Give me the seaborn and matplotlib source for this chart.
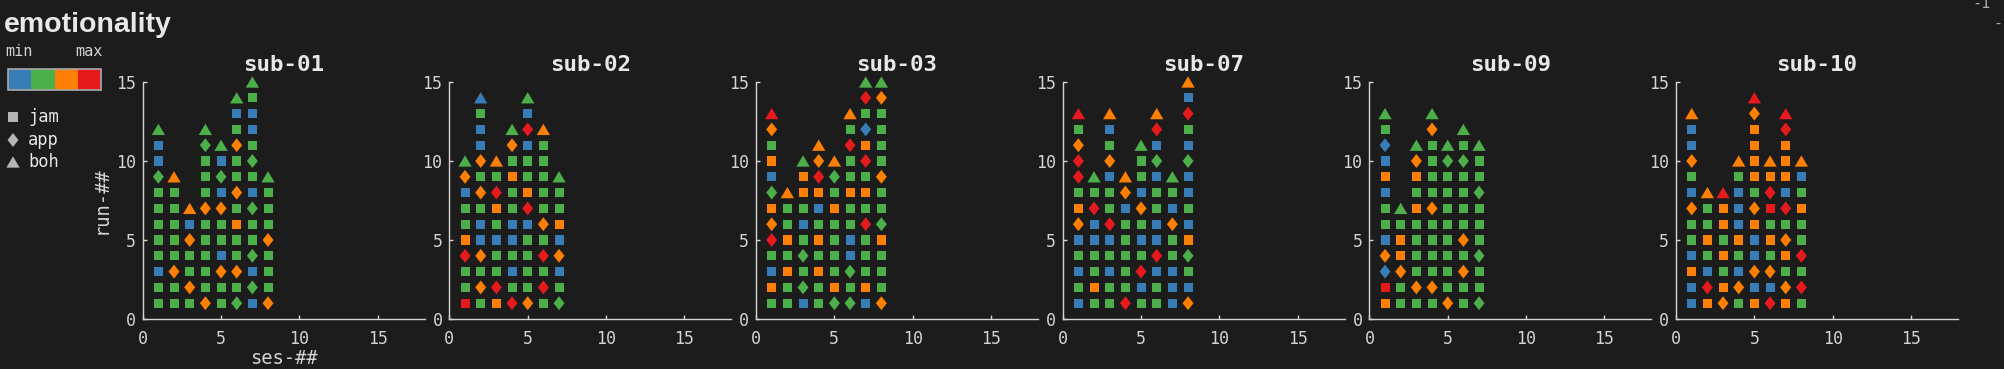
import numpy as np
import pandas as pd
import matplotlib
matplotlib.use("Agg")
import matplotlib.pyplot as plt
from matplotlib.colors import ListedColormap
from matplotlib.patches import Rectangle
import seaborn as sns

BG = "#1c1c1c"
FG = "#d4d4d4"
FG_HI = "#e8e8e8"
MONO = "DejaVu Sans Mono"

subjects = ["sub-01", "sub-02", "sub-03", "sub-07", "sub-09", "sub-10"]

# one string per session, runs from run-01 upward
# letter = emotionality level (B min, G, O, R max), symbol = s jam, d app, ^ boh
sub01 = [
    "Gs Gs Bs Gs Gs Gs Gs Gs Gd Bs Bs G^",
    "Gs Gs Od Gs Gs Gs Gs Gs O^",
    "Gs Od Gs Gs Od Bs O^",
    "Od Gs Gs Gs Gs Gs Od Gs Gs Gs Gd G^",
    "Gs Gs Od Bs Gs Gs Od Bs Gd Bs G^",
    "Gd Gs Od Gs Gs Os Gs Od Gs Gs Od Gs Bs G^",
    "Bs Gd Bs Gd Gs Gs Gd Bs Gs Gd Gs Bs Bs Gs G^",
    "Od Gs Gs Gs Od Gs Gs Gs G^",
]
sub02 = [
    "Rs Gs Gs Rd Os Gs Gs Bs Od G^",
    "Gs Od Gs Od Bs Bs Gs Od Gs Od Bs Bs Gs B^",
    "Os Rd Gs Gs Bs Gs Os Rd Gs O^",
    "Rd Gs Bs Gs Bs Bs Gs Gs Os Gs Od G^",
    "Od Gs Gs Gs Gs Bs Rd Os Gs Gs Bs Rd Bs G^",
    "Gs Rd Gs Rd Gs Od Gs Gs Gs Gs Gs O^",
    "Gd Gs Bs Od Bs Os Gs Gs G^",
]
sub03 = [
    "Gs Os Bs Gs Rd Od Os Gd Bs Os Gs Od R^",
    "Gs Gs Os Gs Os Gs Gs O^",
    "Bs Gd Gs Gd Gs Bs Gs Os Os G^",
    "Gs Gs Os Gs Os Gs Bs Os Rd Od O^",
    "Gd Os Gs Gs Gs Gs Os Gs Gd O^",
    "Gd Gs Gd Bs Bs Gs Gs Os Gs Gs Rd Gs O^",
    "Bs Os Gs Gs Gs Rd Gs Os Gs Rd Os Bd Gs Rd G^",
    "Od Gs Gs Gs Os Gd Gs Gs Od Gs Gs Gs Gs Od G^",
]
sub07 = [
    "Bs Gs Bs Gs Bs Od Os Gs Rd Rd Od Gs R^",
    "Gs Os Gs Gs Bs Bs Rd Gs G^",
    "Gs Gs Bs Gs Bs Rd Gs Gs Bs Od Gs Bs O^",
    "Rd Gs Gs Gs Gs Gs Bs Od O^",
    "Gs Bs Rd Gs Bs Gs Od Bs Gs Gs G^",
    "Gs Gs Bs Rd Bs Bs Gs Gs Bs Gd Bs Rd O^",
    "Bs Bs Bs Gs Gs Od Bs Gs G^",
    "Od Bs Gs Gd Os Bs Gs Bs Bs Gd Bs Gs Rd Bs O^",
]
sub09 = [
    "Os Rs Bd Od Bs Gs Gs Bs Os Bs Bd Gs G^",
    "Gs Gs Od Os Os Gs G^",
    "Gs Od Gs Gs Gs Gs Os Gs Os Od G^",
    "Gs Od Gs Gs Gs Gs Od Gs Gs Gs Gs Od G^",
    "Od Gs Gs Gs Gs Gs Gs Gs Gs Gd G^",
    "Gs Gs Od Gs Od Gs Gs Gs Gs Gd Gs G^",
    "Gd Gs Gs Gd Gs Gs Gs Gd Gs Gs G^",
]
sub10 = [
    "Bs Bs Os Bs Gs Gs Od Bs Gs Od Bs Bs O^",
    "Os Rd Bs Gs Os Gs Gs O^",
    "Od Os Gs Os Gs Os Os R^",
    "Gs Od Bs Gs Os Bs Bs Bs Gs O^",
    "Os Bs Od Bs Bs Os Od Gs Os Os Os Os Od R^",
    "Rd Bs Od Gs Os Gs Rs Rd Os O^",
    "Os Od Gs Os Od Gs Rd Bs Os Os Os Rd R^",
    "Gs Rd Gs Rd Gs Gs Os Gs Bs O^",
]
sessions = [sub01, sub02, sub03, sub07, sub09, sub10]

level_names = ["B", "G", "O", "R"]
level_colors = ["#377eb8", "#4daf4a", "#ff7f00", "#e41a1c"]
kind_codes = {"s": "jam", "d": "app", "^": "boh"}
legend_kinds = ["jam", "app", "boh"]

palette = dict(zip(level_names, level_colors))
markers = {
    "jam": "s",
    "app": [(0, 1), (0.79, 0), (0, -1), (-0.79, 0), (0, 1)],
    "boh": [(0, 0.85), (1, -0.85), (-1, -0.85), (0, 0.85)],
}
sizes = {"jam": 42, "app": 100, "boh": 92}


def to_frame(session_list):
    rows = []
    for ses, col in enumerate(session_list, start=1):
        for run, tok in enumerate(col.split(), start=1):
            rows.append({"ses": ses, "run": run, "level": tok[0], "kind": kind_codes[tok[1]]})
    return pd.DataFrame(rows)


sns.set_theme(style="ticks")
plt.rcParams.update({
    "figure.facecolor": BG,
    "axes.facecolor": BG,
    "savefig.facecolor": BG,
    "text.color": FG,
    "axes.labelcolor": FG,
    "axes.edgecolor": FG,
    "xtick.color": FG,
    "ytick.color": FG,
    "axes.linewidth": 1.0,
})
plt.rcParams["font.family"] = [MONO, "DejaVu Sans"]

W, H = 2004, 369
fig = plt.figure(figsize=(W / 100, H / 100), dpi=100)

# overlay in pixel coordinates for the left-hand key and loose texts
ov = fig.add_axes([0, 0, 1, 1])
ov.set_xlim(0, W)
ov.set_ylim(H, 0)
ov.axis("off")

ov.text(4, 31.5, "emotionality", fontsize=20.5, fontweight="bold", color=FG_HI,
        family=["Liberation Sans", "DejaVu Sans"], va="baseline", ha="left")
ov.text(5, 56, "min", fontsize=11, va="baseline", ha="left")
ov.text(103, 56, "max", fontsize=11, va="baseline", ha="right")

leg = pd.DataFrame({"x": [13, 13, 13], "y": [117, 140, 162], "kind": legend_kinds})
sns.scatterplot(data=leg, x="x", y="y", style="kind", markers=markers,
                size="kind", sizes=sizes, color="#b4b4b4", linewidth=0,
                legend=False, ax=ov)
for yy, name in zip(leg["y"], leg["kind"]):
    ov.text(28, yy, name, fontsize=12.3, va="center", ha="left", color=FG_HI)
ov.set_xlabel("")
ov.set_ylabel("")
ov.text(1972, 8, "-1", fontsize=11, va="baseline", ha="left", color="#aaaaaa")
ov.text(1993, 23, "-", fontsize=11, va="center", ha="left", color="#aaaaaa")

# colour strip min -> max
cax = fig.add_axes([8.3 / W, (H - 90) / H, 92.4 / W, 21 / H])
sns.heatmap(np.array([[0, 1, 2, 3]]), cmap=ListedColormap(level_colors), cbar=False,
            xticklabels=False, yticklabels=False, linewidths=0, ax=cax)
cax.add_patch(Rectangle((0, 0), 4, 1, fill=False, edgecolor="#aaaaaa", lw=1.2, clip_on=False))

ax_w, ax_h = 282 / W, 237 / H
for i, (sub, sess) in enumerate(zip(subjects, sessions)):
    left = (142.7 + i * 306.67) / W
    ax = fig.add_axes([left, 50 / H, ax_w, ax_h])
    df = to_frame(sess)
    sns.scatterplot(data=df, x="ses", y="run", hue="level", palette=palette,
                    style="kind", markers=markers, size="kind", sizes=sizes,
                    linewidth=0, legend=False, clip_on=False, ax=ax)
    ax.set_xlim(0, 18)
    ax.set_ylim(0, 15)
    ax.set_xticks([0, 5, 10, 15])
    ax.set_yticks([0, 5, 10, 15])
    ax.tick_params(direction="in", length=3, width=1, labelsize=12)
    ax.tick_params(axis="x", pad=8)
    ax.tick_params(axis="y", pad=5)
    sns.despine(ax=ax)
    ax.set_title(sub, fontsize=16.2, fontweight="bold", pad=8, color=FG_HI)
    if i == 0:
        ax.set_xlabel("ses-##", fontsize=13.5, labelpad=0.5)
        ax.set_ylabel("run-##", fontsize=13.5)
    else:
        ax.set_xlabel("")
        ax.set_ylabel("")

fig.savefig("out.png", dpi=100)
